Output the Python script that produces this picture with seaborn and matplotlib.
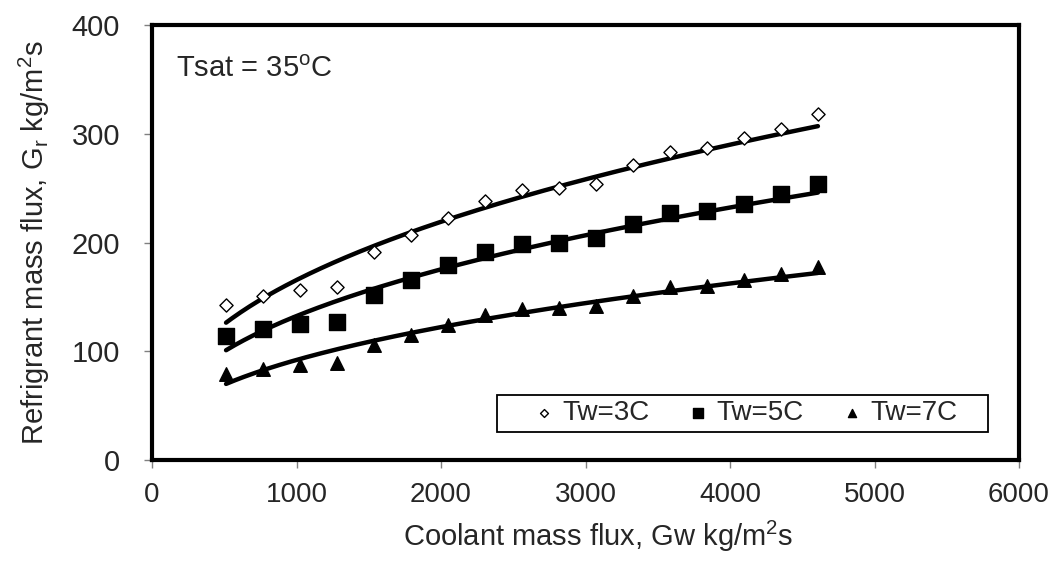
import matplotlib
matplotlib.use("Agg")
import matplotlib.pyplot as plt
from matplotlib.patches import Rectangle
import numpy as np
import seaborn as sns

# coolant mass flux (x) shared by all series
gw = [512, 768, 1024, 1280, 1536, 1792, 2048, 2304, 2560, 2816, 3072,
      3328, 3584, 3840, 4096, 4352, 4608]

# refrigerant mass flux
tw3 = [143, 151, 156, 159, 191, 207, 223, 238, 248, 250, 254,
       271, 283, 287, 296, 305, 318]
tw5 = [114, 121, 125, 127, 152, 166, 179, 191, 199, 200, 204,
       217, 227, 229, 236, 245, 254]
tw7 = [79, 84, 87, 89, 106, 115, 124, 133, 139, 140, 142,
       151, 159, 160, 166, 171, 178]

labels = ["Tw=3C", "Tw=5C", "Tw=7C"]

sns.set_style("white")
plt.rcParams["font.family"] = ["Liberation Sans", "DejaVu Sans"]

fig = plt.figure(figsize=(10.56, 5.61), dpi=100)
ax = fig.add_axes([0.144, 0.18, 0.821, 0.775])

styles = [("D", "white", 45), ("s", "black", 120), ("^", "black", 95)]
xfit = np.linspace(min(gw), max(gw), 200)
for ys, lab, (mk, fc, sz) in zip([tw3, tw5, tw7], labels, styles):
    # power-law trendline fitted in log space (like Excel's power trendline)
    b, a = np.polyfit(np.log(gw), np.log(ys), 1)
    sns.lineplot(x=xfit, y=np.exp(a) * xfit ** b, ax=ax, color="black",
                 linewidth=3.2, legend=False, zorder=2)
    sns.scatterplot(x=gw, y=ys, ax=ax, marker=mk, s=sz, facecolor=fc,
                    edgecolor="black", linewidth=1.0, label=lab, zorder=3)

ax.set_xlim(0, 6000)
ax.set_ylim(0, 400)
ax.set_xticks(range(0, 6001, 1000))
ax.set_yticks(range(0, 401, 100))

for s in ax.spines.values():
    s.set_linewidth(3)
    s.set_color("black")

ax.tick_params(axis="both", direction="out", length=6, width=1,
               color="#808080", bottom=True, left=True)
ax.tick_params(axis="y", pad=17, labelsize=21)
ax.tick_params(axis="x", pad=10, labelsize=20)

ax.set_xlabel("Coolant mass flux, Gw kg/m$^{\\mathregular{2}}$s",
              fontsize=21, labelpad=4)
ax.xaxis.set_label_coords(0.515, -0.135)
ax.set_ylabel("Refrigrant mass flux, G$_{\\mathregular{r}}$ kg/m$^{\\mathregular{2}}$s",
              fontsize=21, labelpad=14)

ax.text(0.028, 0.9, "Tsat = 35$^{\\mathregular{o}}$C", transform=ax.transAxes,
        fontsize=21, va="center", ha="left")

# legend box drawn separately so the entries can sit off-centre like the original
ax.add_patch(Rectangle((0.398, 0.064), 0.566, 0.085, transform=ax.transAxes,
                       facecolor="white", edgecolor="black", linewidth=1.3,
                       zorder=4))
leg = ax.legend(loc="center", bbox_to_anchor=(0.686, 0.107), ncol=3,
                fontsize=20, markerscale=0.6, frameon=False,
                handlelength=0.6, handletextpad=0.35, columnspacing=1.45,
                borderpad=0.1)
leg.set_zorder(5)

fig.savefig("out.png", dpi=100)
